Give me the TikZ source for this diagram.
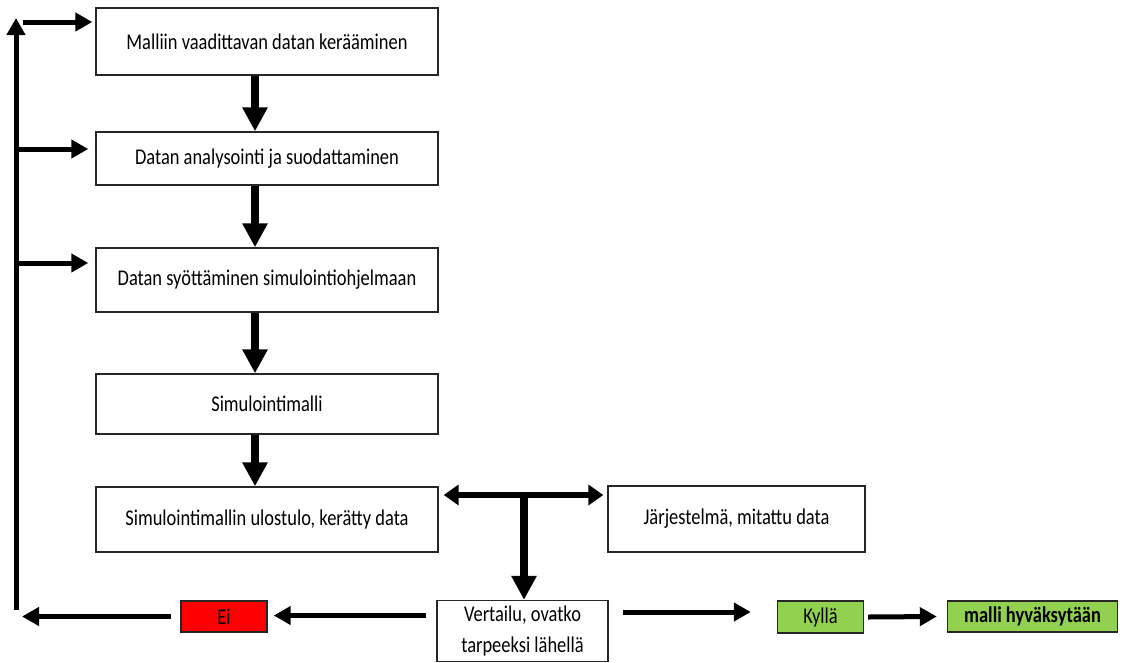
\documentclass[tikz,border=0pt]{standalone}
\usepackage{fontspec}
\setmainfont{Carlito}[FakeStretch=0.82]
\usetikzlibrary{arrows.meta,calc}
\definecolor{eired}{HTML}{FF0000}
\definecolor{kygreen}{HTML}{92D050}
\tikzset{
  box/.style={draw=black!85, line width=1.4pt, inner sep=0pt, minimum width=342pt, font=\fontsize{22.5}{26}\selectfont},
  smallbox/.style={draw=black!85, line width=1.4pt, inner sep=0pt, minimum height=31pt, font=\fontsize{22.5}{26}\selectfont},
  bigarrow/.style={line width=8pt, -{Triangle[length=24pt,width=24pt]}},
  midarrow/.style={line width=5pt, -{Triangle[length=17pt,width=18pt]}},
  dblarrow/.style={line width=6pt, {Triangle[length=15pt,width=20pt]}-{Triangle[length=15pt,width=20pt]}},
}
\begin{document}
\begin{tikzpicture}[x=1pt,y=-1pt]
\useasboundingbox (0,0) rectangle (1126,662);
% main column
\node[box, minimum height=67pt] (b1) at (267,41.5) {Malliin vaadittavan datan kerääminen};
\node[box, minimum height=53pt] (b2) at (267,158.5) {Datan analysointi ja suodattaminen};
\node[box, minimum height=64pt] (b3) at (267,280) {Datan syöttäminen simulointiohjelmaan};
\node[box, minimum height=60pt] (b4) at (267,404) {Simulointimalli};
\node[box, minimum height=65pt] (b5) at (267,519.5) {Simulointimallin ulostulo, kerätty data};
\node[box, minimum width=257pt, minimum height=66pt] (jr) at (736.5,519) {Järjestelmä, mitattu data};
\node[box, minimum width=171pt, minimum height=61pt, align=center, font=\fontsize{22.5}{31}\selectfont] (vt) at (522.5,631) {Vertailu, ovatko\\tarpeeksi lähellä};
\node[smallbox, fill=eired, minimum width=86pt] (ei) at (224,616.5) {Ei};
\node[smallbox, fill=kygreen, minimum width=86pt, minimum height=32pt] (ky) at (820.5,617) {Kyllä};
\node[smallbox, fill=kygreen, minimum width=170pt, font=\fontsize{22.5}{26}\selectfont\bfseries] (ma) at (1032.5,616.5) {malli hyväksytään};
% coordinates
\coordinate (ax) at (255,0);
\coordinate (fbb) at (16,610);
\coordinate (fbt) at (16,18);
\coordinate (junc) at (524,495);
% vertical arrows
\draw[bigarrow] (b1.south -| ax) -- (b2.north -| ax);
\draw[bigarrow] (b2.south -| ax) -- (b3.north -| ax);
\draw[bigarrow] (b3.south -| ax) -- (b4.north -| ax);
\draw[bigarrow] (b4.south -| ax) -- (b5.north -| ax);
% comparison
\draw[dblarrow] ($(b5.east |- junc)+(5,0)$) -- ($(jr.west |- junc)+(-4,0)$);
\draw[bigarrow] (junc) -- (vt.north -| junc);
% feedback
\draw[midarrow] (fbb) -- (fbt);
\draw[midarrow] (23,22) -- ($(b1.west |- 0,22)+(-3,0)$);
\draw[midarrow] (fbb |- 0,149) -- ($(b2.west |- 0,149)+(-7,0)$);
\draw[midarrow] (fbb |- 0,263) -- ($(b3.west |- 0,263)+(-7,0)$);
% bottom row
\draw[midarrow] ($(vt.west |- ei.east)+(-10,-1)$) -- ($(ei.east)+(6,-1)$);
\draw[midarrow] ($(ei.west)+(-9,0)$) -- ($(fbb |- ei.west)+(6,0)$);
\draw[midarrow] ($(vt.east |- ky.west)+(14,-5)$) -- ($(ky.west)+(-26,-5)$);
\draw[midarrow] ($(ky.east)+(4,0)$) -- ($(ma.west)+(-10,0)$);
\end{tikzpicture}
\end{document}
